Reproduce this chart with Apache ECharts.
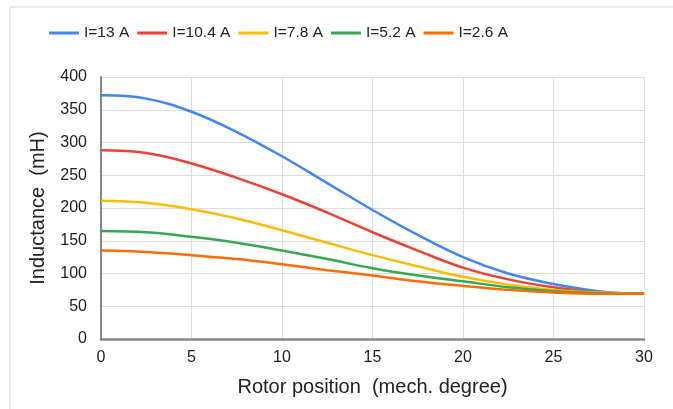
<!DOCTYPE html>
<html>
<head>
<meta charset="utf-8">
<script src="https://cdn.jsdelivr.net/npm/echarts@6/dist/echarts.min.js"></script>
<style>
  html, body { margin: 0; padding: 0; background: #fff; }
  #chart { width: 673px; height: 409px; }
</style>
</head>
<body>
<div id="chart"></div>
<script>
// rotor position in mechanical degrees
var positions = [0, 2.5, 5, 7.5, 10, 12.5, 15, 17.5, 20, 22.5, 25, 27.5, 30];
var i13   = [372, 367, 347, 316, 279, 238, 197, 159, 125, 100, 84, 73, 69];
var i10_4 = [288, 284, 268, 246, 221, 193, 163, 135, 109, 91, 79, 71, 69];
var i7_8  = [211, 208, 198, 184, 166, 147, 128, 111, 95, 83, 75, 71, 69];
var i5_2  = [165, 163, 156, 147, 135, 122, 108, 97, 88, 79, 73, 70, 69];
var i2_6  = [135, 133, 128, 122, 114, 105, 97, 88, 81, 75, 71, 69, 69];
var seriesNames = ['I=13 A', 'I=10.4 A', 'I=7.8 A', 'I=5.2 A', 'I=2.6 A'];
var colors = ['#4285F4', '#EA4335', '#FBBC04', '#34A853', '#FF6D01'];

var allData = [i13, i10_4, i7_8, i5_2, i2_6];

var chart = echarts.init(document.getElementById('chart'));

var font = '"Liberation Sans", Arial, sans-serif';

chart.setOption({
    color: colors,
    textStyle: { fontFamily: font },
    graphic: [{
        type: 'rect',
        shape: { x: 10, y: 7, width: 700, height: 440 },
        style: { fill: 'none', stroke: '#d9d9d9', lineWidth: 1 },
        silent: true,
        z: -1
    }],
    legend: {
        top: 20,
        left: 44,
        itemWidth: 30,
        itemHeight: 3,
        itemGap: 8,
        icon: 'rect',
        textStyle: { fontSize: 15.5, color: '#222' },
        data: seriesNames
    },
    grid: {
        left: 101,
        right: 29,
        top: 77,
        bottom: 70
    },
    xAxis: {
        type: 'value',
        min: 0,
        max: 30,
        interval: 5,
        name: 'Rotor position  (mech. degree)',
        nameLocation: 'middle',
        nameGap: 38,
        nameTextStyle: { fontSize: 20, color: '#222', verticalAlign: 'top' },
        axisLine: { lineStyle: { color: '#888', width: 2.5 } },
        axisTick: { show: false },
        axisLabel: { fontSize: 16, color: '#222', margin: 11 },
        splitLine: { show: true, lineStyle: { color: '#dddddd' } }
    },
    yAxis: {
        type: 'value',
        min: 0,
        max: 400,
        interval: 50,
        name: 'Inductance  (mH)',
        nameLocation: 'middle',
        nameGap: 53,
        nameTextStyle: { fontSize: 20, color: '#222' },
        axisLine: { show: true, lineStyle: { color: '#888', width: 2 } },
        axisTick: { show: false },
        axisLabel: { fontSize: 16, color: '#222', margin: 14 },
        splitLine: { show: true, lineStyle: { color: '#dddddd' } }
    },
    series: allData.map(function (vals, k) {
        return {
            name: seriesNames[k],
            type: 'line',
            smooth: 0.4,
            showSymbol: false,
            lineStyle: { width: 2.5 },
            data: positions.map(function (p, j) { return [p, vals[j]]; })
        };
    })
});
</script>
</body>
</html>
